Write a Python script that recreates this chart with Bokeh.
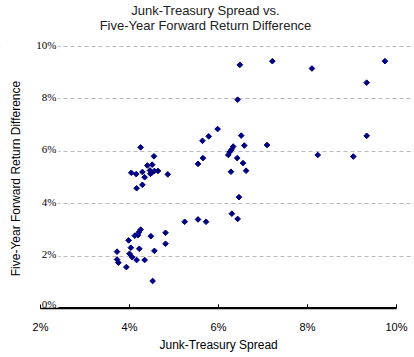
import numpy as np
from bokeh.plotting import figure
from bokeh.models import (ColumnDataSource, FixedTicker, Range1d, BoxAnnotation, Label,
                          LabelSet, Title)
from bokeh.embed import file_html
from bokeh.resources import INLINE

# Junk-Treasury spread (%) and five-year forward return difference (%)
spread = [6.48, 6.43, 5.98, 5.64, 5.78, 6.51, 6.58, 6.33, 6.29, 6.25, 6.22, 5.65, 5.54,
          6.42, 6.55, 6.28, 6.62, 4.25, 4.55, 4.40, 4.51, 4.04, 4.15, 4.29, 4.34, 4.46,
          4.47, 4.56, 4.64, 4.86, 4.29, 4.16, 7.21, 8.10, 9.74, 9.33, 7.09, 9.33, 8.23,
          9.03, 6.46, 6.30, 6.43, 5.24, 5.54, 5.72, 4.25, 4.21, 4.12, 4.19, 3.98, 4.48,
          4.81, 4.81, 4.03, 4.22, 4.56, 3.72, 4.00, 4.06, 4.16, 4.34, 3.72, 3.75, 3.93,
          4.52, 4.50]
ret_diff = [9.30, 7.97, 6.85, 6.40, 6.57, 6.60, 6.22, 6.18, 6.06, 5.97, 5.86, 5.74, 5.52,
            5.74, 5.55, 5.22, 5.26, 6.15, 5.81, 5.46, 5.49, 5.18, 5.13, 5.21, 5.01, 5.27,
            5.14, 5.25, 5.25, 5.12, 4.72, 4.59, 9.44, 9.16, 9.44, 8.62, 6.24, 6.59, 5.86,
            5.80, 4.25, 3.62, 3.42, 3.31, 3.40, 3.31, 3.01, 2.91, 2.78, 2.80, 2.60, 2.76,
            2.89, 2.47, 2.32, 2.28, 2.20, 2.17, 2.09, 1.96, 1.85, 1.85, 1.87, 1.75, 1.58,
            1.05, 5.18]

x_ticks = [2, 4, 6, 8, 10]
x_tick_labels = ["2%", "4%", "6%", "8%", "10%"]
y_ticks = [0, 2, 4, 6, 8, 10]
y_tick_labels = ["0%", "2%", "4%", "6%", "8%", "10%"]
title_lines = ["Junk-Treasury Spread vs.", "Five-Year Forward Return Difference"]
x_title = "Junk-Treasury Spread"
y_title = "Five-Year Forward Return Difference"

FONT = "Liberation Sans"

# plot area spans the page's full width and reaches its top; the ranges run past the
# 2%..10% / 0%..10% window so titles and inside labels sit within it
p = figure(width=414, height=357, output_backend="svg", toolbar_location=None,
           x_range=Range1d(1.1011, 10.4045), y_range=Range1d(0, 11.756),
           min_border_left=0, min_border_right=0, min_border_top=0, min_border_bottom=49)
p.background_fill_color = "white"
p.border_fill_color = "white"
p.outline_line_color = None

# chart title (screen units from the plot area's lower left)
for i, line in enumerate(title_lines):
    p.add_layout(Label(x=205, y=298 - 15 * i, x_units="screen", y_units="screen",
                       text=line, text_align="center", text_baseline="middle",
                       text_font=FONT, text_font_size="13px", text_color="#222222"))

# y axis title
p.add_layout(Label(x=15, y=130, x_units="screen", y_units="screen", angle=np.pi / 2,
                   text=y_title, text_align="center", text_baseline="middle",
                   text_font=FONT, text_font_size="12px", text_color="black"))

# x axis
p.xaxis.ticker = FixedTicker(ticks=x_ticks)
p.xaxis.bounds = (x_ticks[0], x_ticks[-1])
p.xaxis.major_label_overrides = {t: l for t, l in zip(x_ticks, x_tick_labels)}
p.xaxis.axis_line_color = "black"
p.xaxis.axis_line_width = 1.5
p.xaxis.major_tick_in = 4
p.xaxis.major_tick_out = 0
p.xaxis.major_tick_line_color = "black"
p.xaxis.minor_tick_line_color = None
p.xaxis.major_label_text_font = FONT
p.xaxis.major_label_text_font_size = "11px"
p.xaxis.major_label_text_color = "black"
p.xaxis.major_label_standoff = 12

p.add_layout(Title(text=x_title, align="left", offset=159, vertical_align="top",
                   standoff=4, text_font=FONT, text_font_size="12px",
                   text_font_style="normal", text_color="black"), "below")

p.yaxis.visible = False

p.xgrid.grid_line_color = None
p.ygrid.ticker = FixedTicker(ticks=y_ticks)
p.ygrid.grid_line_color = "#b8b8b8"
p.ygrid.grid_line_dash = "4 3"
p.ygrid.grid_line_width = 1

# white band behind the inside tick labels (gridlines start after the labels)
p.add_layout(BoxAnnotation(right=2.4, fill_color="white", fill_alpha=1.0,
                           line_color=None, level="glyph"))

# baseline of the x axis and its inward ticks (drawn at the 0% level, 2%..10%)
p.segment(x0=[x_ticks[0]], y0=[y_ticks[0]], x1=[x_ticks[-1]], y1=[y_ticks[0]],
          line_color="black", line_width=3)
p.scatter(x=x_ticks, y=[y_ticks[0]] * len(x_ticks), marker="dash", angle=np.pi / 2,
          size=8, line_color="black", line_width=1)

src = ColumnDataSource(dict(x=spread, y=ret_diff))
p.scatter("x", "y", source=src, marker="square", angle=np.pi / 4, size=4,
          fill_color="#000080", line_color="#000080", line_width=1)

# y tick labels inside the plot area
lab_src = ColumnDataSource(dict(x=[x_ticks[0]] * (len(y_ticks) - 1), y=y_ticks[1:],
                                t=y_tick_labels[1:]))
p.add_layout(LabelSet(x="x", y="y", text="t", source=lab_src, x_offset=16, y_offset=2,
                      text_align="right", text_baseline="middle", text_font=FONT,
                      text_font_size="11px", text_color="black"))
zero_src = ColumnDataSource(dict(x=[x_ticks[0]], y=[y_ticks[0]], t=[y_tick_labels[0]]))
p.add_layout(LabelSet(x="x", y="y", text="t", source=zero_src, x_offset=16, y_offset=5,
                      text_align="right", text_baseline="middle", text_font=FONT,
                      text_font_size="11px", text_color="black"))

open("out.html", "w").write(file_html(p, INLINE))
